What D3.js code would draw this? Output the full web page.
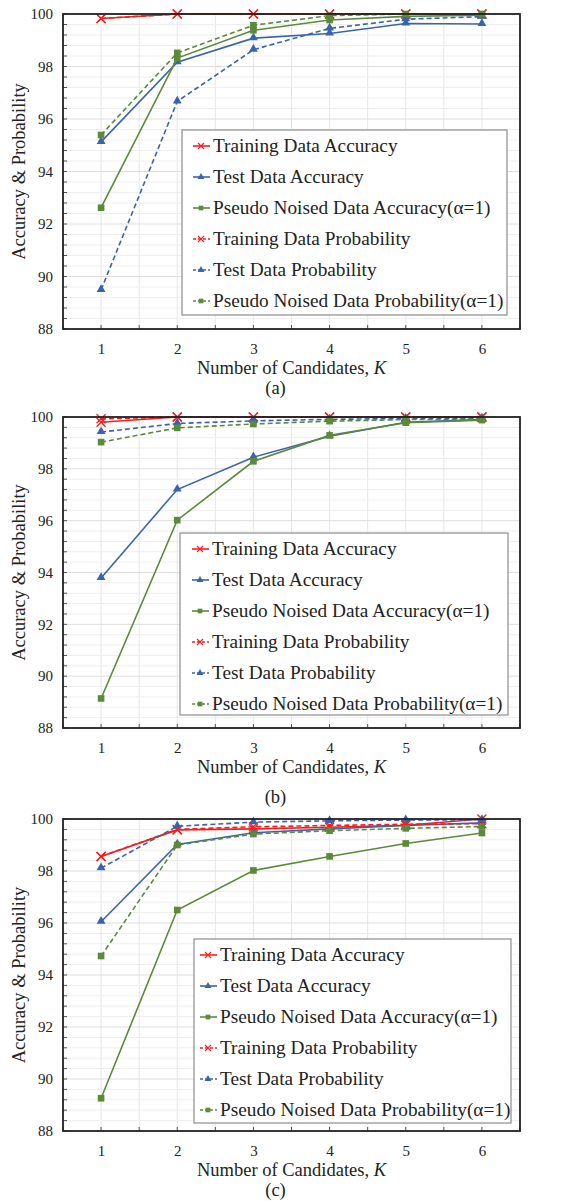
<!DOCTYPE html>
<html>
<head>
<meta charset="utf-8">
<title>Accuracy & Probability vs K</title>
<script src="https://d3js.org/d3.v7.min.js"></script>
<style>
body { margin: 0; background: #fff; }
svg text { font-family: "Liberation Serif", "Times New Roman", serif !important; fill: #222; }
</style>
</head>
<body>
<svg id="chart" width="583" height="1201"></svg>
<script>
// candidate counts
var K = [1, 2, 3, 4, 5, 6];
var yTicks = [88, 90, 92, 94, 96, 98, 100];
var seriesNames = [
  "Training Data Accuracy",
  "Test Data Accuracy",
  "Pseudo Noised Data Accuracy(\u03b1=1)",
  "Training Data Probability",
  "Test Data Probability",
  "Pseudo Noised Data Probability(\u03b1=1)"
];
var panelLabels = ["(a)", "(b)", "(c)"];

// (a)
var trainAccA = [99.83, 100, 100, 100, 100, 100];
var testAccA  = [95.13, 98.16, 99.08, 99.26, 99.64, 99.62];
var noiseAccA = [92.62, 98.32, 99.38, 99.77, 99.91, 99.95];
var trainProbA = [99.83, 100, 100, 100, 100, 100];
var testProbA  = [89.49, 96.67, 98.64, 99.45, 99.80, 99.90];
var noiseProbA = [95.39, 98.52, 99.57, 99.94, 100, 100];

// (b)
var trainAccB = [99.80, 100, 100, 100, 100, 100];
var testAccB  = [93.79, 97.20, 98.45, 99.26, 99.80, 99.90];
var noiseAccB = [89.14, 96.02, 98.29, 99.29, 99.78, 99.88];
var trainProbB = [99.93, 100, 100, 100, 100, 100];
var testProbB  = [99.42, 99.75, 99.85, 99.91, 99.94, 99.95];
var noiseProbB = [99.03, 99.58, 99.73, 99.84, 99.90, 99.91];

// (c)
var trainAccC = [98.56, 99.58, 99.62, 99.68, 99.76, 100];
var testAccC  = [96.05, 99.02, 99.47, 99.62, 99.75, 99.85];
var noiseAccC = [89.26, 96.50, 98.02, 98.56, 99.06, 99.46];
var trainProbC = [98.56, 99.60, 99.70, 99.75, 99.80, 99.82];
var testProbC  = [98.11, 99.72, 99.88, 99.93, 99.96, 99.97];
var noiseProbC = [94.73, 99.00, 99.42, 99.55, 99.64, 99.71];

var panelData = [
  [trainAccA, testAccA, noiseAccA, trainProbA, testProbA, noiseProbA],
  [trainAccB, testAccB, noiseAccB, trainProbB, testProbB, noiseProbB],
  [trainAccC, testAccC, noiseAccC, trainProbC, testProbC, noiseProbC]
];

var red = "#ff1a1a", blue = "#3a63ad", green = "#5b8a3a";
var styles = [
  {color: red,   dash: null,  sym: "x"},
  {color: blue,  dash: null,  sym: "tri"},
  {color: green, dash: null,  sym: "sq"},
  {color: red,   dash: "5,3", sym: "x"},
  {color: blue,  dash: "5,3", sym: "tri"},
  {color: green, dash: "5,3", sym: "sq"}
];

// layout of the three panels
var layout = [
  {top: 14,  bottom: 329,  legend: {x: 182, y: 130, w: 325, h: 185, dx: 31}},
  {top: 417, bottom: 728,  legend: {x: 180, y: 533, w: 328, h: 182, dx: 32}},
  {top: 819, bottom: 1131, legend: {x: 194, y: 939, w: 317, h: 184, dx: 26}}
];
var left = 63, right = 520;
var serif = "Liberation Serif, Times New Roman, serif";

var svg = d3.select("#chart").attr("font-family", serif);

var xScale = d3.scaleLinear().domain([0.5, 6.5]).range([left, right]);

function marker(g, sym, color, cx, cy) {
  if (sym == "x") {
    var s = 4.5;
    g.append("path")
      .attr("d", "M" + (cx - s) + "," + (cy - s) + "L" + (cx + s) + "," + (cy + s) +
                 "M" + (cx - s) + "," + (cy + s) + "L" + (cx + s) + "," + (cy - s))
      .attr("stroke", color).attr("stroke-width", 1.3).attr("fill", "none");
  } else if (sym == "tri") {
    g.append("path")
      .attr("d", d3.symbol().type(d3.symbolTriangle).size(34)())
      .attr("transform", "translate(" + cx + "," + (cy - 0.5) + ")")
      .attr("fill", color);
  } else {
    g.append("path")
      .attr("d", d3.symbol().type(d3.symbolSquare).size(44)())
      .attr("transform", "translate(" + cx + "," + cy + ")")
      .attr("fill", color);
  }
}

layout.forEach(function(p, i) {
  var yScale = d3.scaleLinear().domain([88, 100]).range([p.bottom, p.top]);
  var g = svg.append("g");

  // grid
  var xg = d3.range(0.5, 6.51, 0.5);
  g.selectAll(".vg").data(xg).enter().append("line")
    .attr("x1", function(d) { return xScale(d); })
    .attr("x2", function(d) { return xScale(d); })
    .attr("y1", p.top).attr("y2", p.bottom)
    .attr("stroke", "#e6e6e6").attr("stroke-width", 1);
  var yg = d3.range(88, 100.01, 0.4);
  g.selectAll(".hg").data(yg).enter().append("line")
    .attr("x1", left).attr("x2", right)
    .attr("y1", function(d) { return yScale(d); })
    .attr("y2", function(d) { return yScale(d); })
    .attr("stroke", function(d) { return Math.abs(d / 2 - Math.round(d / 2)) < 0.01 ? "#dedede" : "#eeeeee"; })
    .attr("stroke-width", 1);

  // axes
  var yAxis = d3.axisLeft(yScale).tickValues(yTicks).tickSize(0).tickPadding(10);
  var ya = g.append("g").attr("transform", "translate(" + left + ",0)").call(yAxis);
  ya.select(".domain").remove();
  ya.selectAll("text").attr("font-size", 15).attr("font-family", serif);

  var xAxis = d3.axisBottom(xScale).tickValues(K).tickFormat(d3.format("d")).tickSize(0).tickPadding(14);
  var xa = g.append("g").attr("transform", "translate(0," + p.bottom + ")").call(xAxis);
  xa.select(".domain").remove();
  xa.selectAll("text").attr("font-size", 15).attr("font-family", serif);

  // small inward ticks
  g.selectAll(".xt").data(xg).enter().append("line")
    .attr("x1", function(d) { return xScale(d); })
    .attr("x2", function(d) { return xScale(d); })
    .attr("y1", p.bottom).attr("y2", p.bottom - 4)
    .attr("stroke", "#555");
  g.selectAll(".yt").data(yg).enter().append("line")
    .attr("x1", left).attr("x2", left + 4)
    .attr("y1", function(d) { return yScale(d); })
    .attr("y2", function(d) { return yScale(d); })
    .attr("stroke", "#555");

  // series
  var line = d3.line()
    .x(function(d, j) { return xScale(K[j]); })
    .y(function(d) { return yScale(d); });
  panelData[i].forEach(function(vals, s) {
    var st = styles[s];
    var sg = g.append("g");
    sg.append("path").datum(vals)
      .attr("d", line)
      .attr("fill", "none")
      .attr("stroke", st.color)
      .attr("stroke-width", 1.6)
      .attr("stroke-dasharray", st.dash);
    vals.forEach(function(v, j) {
      marker(sg, st.sym, st.color, xScale(K[j]), yScale(v));
    });
  });

  // frame
  g.append("rect")
    .attr("x", left).attr("y", p.top)
    .attr("width", right - left).attr("height", p.bottom - p.top)
    .attr("fill", "none").attr("stroke", "#222").attr("stroke-width", 1.8);

  // legend
  var L = p.legend;
  var lg = g.append("g");
  lg.append("rect")
    .attr("x", L.x).attr("y", L.y).attr("width", L.w).attr("height", L.h)
    .attr("fill", "#fff").attr("stroke", "#8c8c8c").attr("stroke-width", 1.2);
  seriesNames.forEach(function(name, s) {
    var st = styles[s];
    var cy = L.y + 16 + s * 31;
    var x0 = L.x + L.dx - 20, mx = L.x + L.dx - 12;
    lg.append("line")
      .attr("x1", x0).attr("x2", L.x + L.dx - 3)
      .attr("y1", cy).attr("y2", cy)
      .attr("stroke", st.color).attr("stroke-width", 1.6)
      .attr("stroke-dasharray", st.dash ? "3,2" : null);
    if (st.sym == "x") {
      var s2 = 3;
      lg.append("path")
        .attr("d", "M" + (mx - s2) + "," + (cy - s2) + "L" + (mx + s2) + "," + (cy + s2) +
                   "M" + (mx - s2) + "," + (cy + s2) + "L" + (mx + s2) + "," + (cy - s2))
        .attr("stroke", st.color).attr("stroke-width", 1.1);
    } else {
      lg.append("path")
        .attr("d", d3.symbol().type(st.sym == "tri" ? d3.symbolTriangle : d3.symbolSquare).size(st.sym == "tri" ? 20 : 22)())
        .attr("transform", "translate(" + mx + "," + cy + ")")
        .attr("fill", st.color);
    }
    lg.append("text")
      .attr("x", L.x + L.dx).attr("y", cy + 6)
      .attr("font-size", 19.3)
      .text(name);
  });

  // y title
  var midY = (p.top + p.bottom) / 2;
  g.append("text")
    .attr("transform", "translate(21," + midY + ") rotate(-90)")
    .attr("text-anchor", "middle").attr("dominant-baseline", "middle")
    .attr("font-size", 18.5)
    .text("Accuracy & Probability");

  // x title
  var xt = g.append("text")
    .attr("x", (left + right) / 2).attr("y", p.bottom + 45)
    .attr("text-anchor", "middle")
    .attr("font-size", 18.5);
  xt.append("tspan").text("Number of Candidates, ");
  xt.append("tspan").attr("font-style", "italic").text("K");

  g.append("text")
    .attr("x", (left + right) / 2 - 16).attr("y", p.bottom + (i == 1 ? 75 : 65))
    .attr("text-anchor", "middle")
    .attr("font-size", 18.5)
    .text(panelLabels[i]);
});
</script>
</body>
</html>
